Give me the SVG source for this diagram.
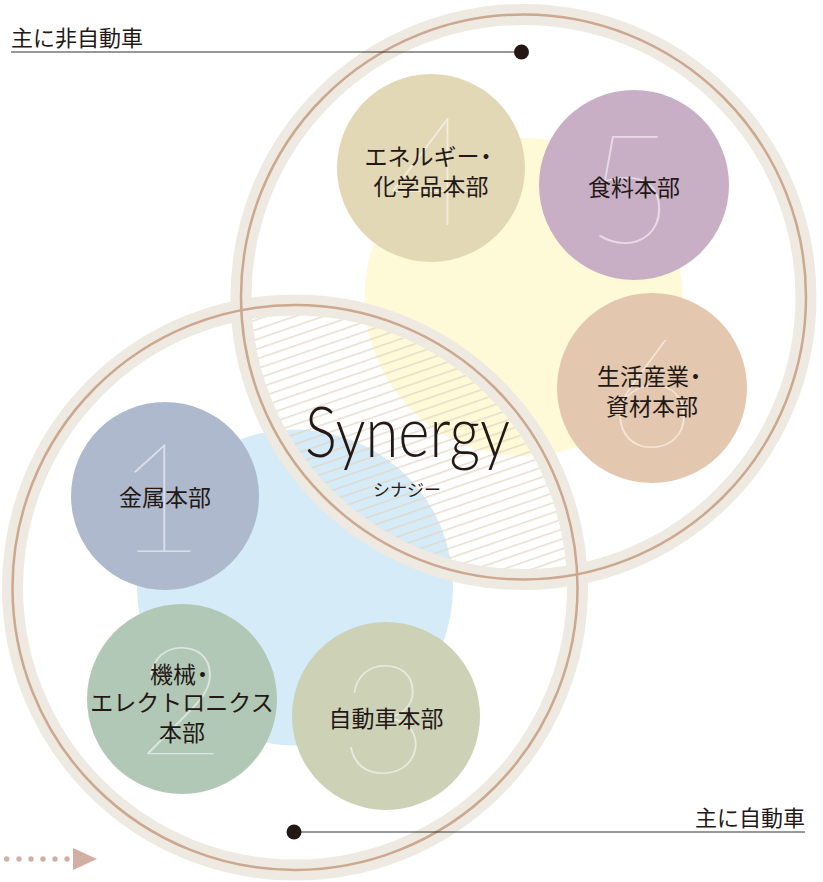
<svg xmlns="http://www.w3.org/2000/svg" width="823" height="882" viewBox="0 0 823 882">
<style>
.band{fill:none;stroke:#EEEAE1;stroke-width:21}
.ringline{fill:none;stroke:#CBA88F;stroke-width:2.5}
.num{font-family:Lato,"Open Sans",sans-serif;font-weight:200;font-size:152px;fill:#FFFFFF;fill-opacity:0.55;text-anchor:middle}
.lbl{font-family:"Noto Sans CJK JP","Noto Sans",sans-serif;font-size:23px;fill:#231815;text-anchor:middle}
.cap{font-family:"Noto Sans CJK JP","Noto Sans",sans-serif;font-size:22px;fill:#231815}
.lead{stroke:#333333;stroke-width:1}
</style>
<defs>
<pattern id="hatch" width="20" height="9.3" patternUnits="userSpaceOnUse" patternTransform="rotate(-19)">
<line x1="0" y1="4.5" x2="20" y2="4.5" stroke="#E2D6C3" stroke-width="1.2"/>
</pattern>
<clipPath id="clipUpper"><circle cx="523.5" cy="297" r="282.5"/></clipPath>
</defs>
<rect width="823" height="882" fill="#FFFFFF"/>
<g id="background">
<circle cx="523.5" cy="297" r="159" fill="#FEF9D7"/>
<circle cx="295" cy="587.5" r="158" fill="#D5EBF7"/>
</g>
<g id="synergy-hatch" clip-path="url(#clipUpper)">
<circle cx="295" cy="587.5" r="282.5" fill="url(#hatch)"/>
</g>
<g id="rings">
<circle class="band" cx="523.5" cy="297" r="282.5"/>
<circle class="band" cx="295" cy="587.5" r="282.5"/>
<circle class="ringline" cx="523.5" cy="297" r="282.5"/>
<circle class="ringline" cx="295" cy="587.5" r="282.5"/>
</g>
<g id="node-4">
<circle cx="431" cy="168" r="94" fill="#E3D8B6"/>
<text class="num" x="432" y="225">4</text>
<text class="lbl" x="431" y="164.7">エネルギー<tspan dx="-5">・</tspan></text>
<text class="lbl" x="431" y="194.7">化学品本部</text>
</g>
<g id="node-5">
<circle cx="634" cy="185" r="95" fill="#C9AFC6"/>
<text class="num" x="630" y="243">5</text>
<text class="lbl" x="634" y="195.7">食料本部</text>
</g>
<g id="node-6">
<circle cx="652" cy="388" r="95" fill="#E3C8AF"/>
<text class="num" x="651" y="447">6</text>
<text class="lbl" x="652" y="384.7">生活産業<tspan dx="-5">・</tspan></text>
<text class="lbl" x="652" y="414.7">資材本部</text>
</g>
<g id="node-1">
<circle cx="165" cy="496" r="94" fill="#AEB9CD"/>
<text class="num" x="160" y="552">1</text>
<text class="lbl" x="165" y="505.7">金属本部</text>
</g>
<g id="node-2">
<circle cx="182" cy="699" r="95" fill="#B2C8B6"/>
<text class="num" x="181" y="755">2</text>
<text class="lbl" x="182" y="682.7">機械<tspan dx="-5">・</tspan></text>
<text class="lbl" x="182" y="710.7">エレクトロニクス</text>
<text class="lbl" x="182" y="740.7">本部</text>
</g>
<g id="node-3">
<circle cx="386" cy="716" r="94" fill="#CDD1B6"/>
<text class="num" x="384" y="773">3</text>
<text class="lbl" x="386" y="726.7">自動車本部</text>
</g>
<g id="synergy">
<text x="305" y="457" textLength="205" lengthAdjust="spacingAndGlyphs" font-family="Lato,'Open Sans',sans-serif" font-weight="300" font-size="70" fill="#231815">Synergy</text>
<text x="407" y="495.5" text-anchor="middle" font-family="'Noto Sans CJK JP','Noto Sans',sans-serif" font-size="17" fill="#231815">シナジー</text>
</g>
<g id="connectors">
<line class="lead" x1="11" y1="52" x2="521.5" y2="52"/>
<circle cx="521.5" cy="52" r="7.5" fill="#231815"/>
<line class="lead" x1="294" y1="832" x2="805" y2="832"/>
<circle cx="294" cy="832" r="7.5" fill="#231815"/>
</g>
<g id="labels">
<text class="cap" x="11" y="46">主に非自動車</text>
<text class="cap" x="805" y="826" text-anchor="end">主に自動車</text>
</g>
<g id="arrow" fill="#D1B0A3">
<circle cx="6.7" cy="859" r="2.7"/>
<circle cx="19" cy="859" r="2.7"/>
<circle cx="31" cy="859" r="2.7"/>
<circle cx="43" cy="859" r="2.7"/>
<circle cx="55" cy="859" r="2.7"/>
<circle cx="67" cy="859" r="2.7"/>
<polygon points="73,848 97,859 73,870"/>
</g>
</svg>
